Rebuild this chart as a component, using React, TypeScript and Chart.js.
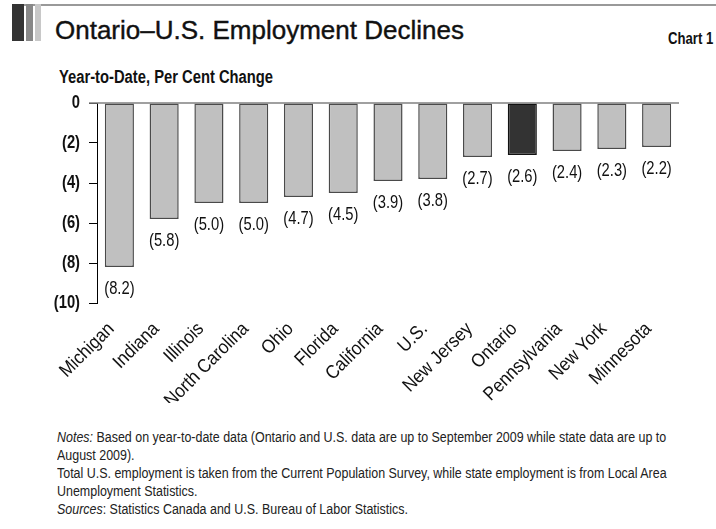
import React, { useEffect, useRef } from "react";
import { Chart, registerables } from "chart.js";
Chart.register(...registerables);

const categories = [
  "Michigan", "Indiana", "Illinois", "North Carolina", "Ohio", "Florida",
  "California", "U.S.", "New Jersey", "Ontario", "Pennsylvania", "New York", "Minnesota",
];
const values = [-8.2, -5.8, -5.0, -5.0, -4.7, -4.5, -3.9, -3.8, -2.7, -2.6, -2.4, -2.3, -2.2];
const highlighted = "Ontario";
const yMin = -10;
const yMax = 0;
const yStep = 2;

const FONT = "'Liberation Sans', Arial, sans-serif";
const NARROW_X = 0.82;

function narrowText(
  ctx: CanvasRenderingContext2D,
  text: string,
  x: number,
  y: number,
  font: string,
  align: CanvasTextAlign,
  baseline: CanvasTextBaseline,
  angle = 0,
  squeeze = NARROW_X
) {
  ctx.save();
  ctx.translate(x, y);
  if (angle) ctx.rotate(angle);
  ctx.scale(squeeze, 1);
  ctx.font = font;
  ctx.fillStyle = "#111";
  ctx.textAlign = align;
  ctx.textBaseline = baseline;
  ctx.fillText(text, 0, 0);
  ctx.restore();
}

const zeroLine = {
  id: "zeroLine",
  afterDatasetsDraw(chart: any) {
    const { ctx, chartArea, scales } = chart;
    const y = scales.y.getPixelForValue(0);
    ctx.save();
    ctx.strokeStyle = "#808080";
    ctx.lineWidth = 1.6;
    ctx.beginPath();
    ctx.moveTo(chartArea.left - 8, y);
    ctx.lineTo(chartArea.right, y);
    ctx.stroke();
    ctx.restore();
  },
};

const textLabels = {
  id: "textLabels",
  afterDraw(chart: any) {
    const { ctx, chartArea, scales } = chart;
    const meta = chart.getDatasetMeta(0);
    meta.data.forEach((bar: any, i: number) => {
      narrowText(ctx, `(${Math.abs(values[i]).toFixed(1)})`, bar.x, bar.y + 22, `18px ${FONT}`, "center", "middle");
    });
    scales.y.ticks.forEach((t: any) => {
      const v = Number(t.value);
      const label = v === 0 ? "0" : `(${Math.abs(v)})`;
      narrowText(ctx, label, chartArea.left - 17, scales.y.getPixelForValue(v), `bold 18px ${FONT}`, "right", "middle");
    });
    categories.forEach((c, i) => {
      const x = scales.x.getPixelForValue(i);
      narrowText(ctx, c, x - 8, chartArea.bottom + 23, `19px ${FONT}`, "right", "middle", -Math.PI / 4, 0.9);
    });
  },
};

function ChartCanvas() {
  const ref = useRef<HTMLCanvasElement | null>(null);
  useEffect(() => {
    if (!ref.current) return;
    const chart = new Chart(ref.current, {
      type: "bar",
      data: {
        labels: categories,
        datasets: [
          {
            data: values,
            backgroundColor: categories.map((c) => (c === highlighted ? "#333333" : "#c0c0c0")),
            borderColor: categories.map((c) => (c === highlighted ? "#111111" : "#4a4a4a")),
            borderWidth: 1.5,
            borderSkipped: false,
            barPercentage: 0.65,
            categoryPercentage: 1,
          },
        ],
      },
      options: {
        responsive: false,
        animation: false,
        events: [],
        layout: { padding: { left: 0, right: 37, top: 13, bottom: 0 } },
        plugins: { legend: { display: false }, tooltip: { enabled: false }, title: { display: false } },
        scales: {
          x: {
            grid: { display: false, drawTicks: false },
            border: { display: false },
            ticks: { display: false, autoSkip: false },
            afterFit: (s: any) => {
              s.height = 100;
            },
          },
          y: {
            min: yMin,
            max: yMax,
            grid: { drawOnChartArea: false, drawTicks: true, tickLength: 8, color: "#000", lineWidth: 1 },
            border: { display: true, color: "#000", width: 1 },
            ticks: { display: false, stepSize: yStep },
            afterFit: (s: any) => {
              s.width = 97;
            },
          },
        },
      },
      plugins: [zeroLine, textLabels],
    });
    return () => chart.destroy();
  }, []);
  return (
    <canvas
      ref={ref}
      width={716}
      height={313}
      style={{ position: "absolute", left: 0, top: 90, width: 716, height: 313 }}
    />
  );
}

export default function App() {
  const abs = (s: React.CSSProperties): React.CSSProperties => ({ position: "absolute", whiteSpace: "nowrap", ...s });
  const narrow: React.CSSProperties = { display: "inline-block", transform: `scaleX(${NARROW_X})`, transformOrigin: "0 0" };
  return (
    <div style={{ position: "absolute", left: 0, top: 0, width: 716, height: 529, background: "#fff", fontFamily: FONT, color: "#111", overflow: "hidden" }}>
      <div style={abs({ left: 12, top: 4, width: 704, height: 1.5, background: "#999" })} />
      <div style={abs({ left: 12, top: 4, width: 12, height: 37, background: "#333" })} />
      <div style={abs({ left: 26, top: 4, width: 7, height: 37, background: "#888" })} />
      <div style={abs({ left: 35, top: 4, width: 6, height: 37, background: "#c8c8c8" })} />
      <div style={abs({ left: 55, top: 16.5, fontSize: 26, lineHeight: "26px", WebkitTextStroke: "0.4px #111" })}>
        Ontario–U.S. Employment Declines
      </div>
      <div style={abs({ left: 668, top: 31, fontSize: 16, lineHeight: "16px", fontWeight: "bold" })}>
        <span style={narrow}>Chart 1</span>
      </div>
      <div style={abs({ left: 59, top: 68, fontSize: 18, lineHeight: "18px", fontWeight: "bold" })}>
        <span style={narrow}>Year-to-Date, Per Cent Change</span>
      </div>
      <ChartCanvas />
      <div style={abs({ left: 57, top: 428, fontSize: 15.2, lineHeight: "18px", color: "#222" })}>
        <div style={narrow}>
          <div><i>Notes:</i> Based on year-to-date data (Ontario and U.S. data are up to September 2009 while state data are up to</div>
          <div>August 2009).</div>
          <div>Total U.S. employment is taken from the Current Population Survey, while state employment is from Local Area</div>
          <div>Unemployment Statistics.</div>
          <div><i>Sources</i>: Statistics Canada and U.S. Bureau of Labor Statistics.</div>
        </div>
      </div>
    </div>
  );
}
